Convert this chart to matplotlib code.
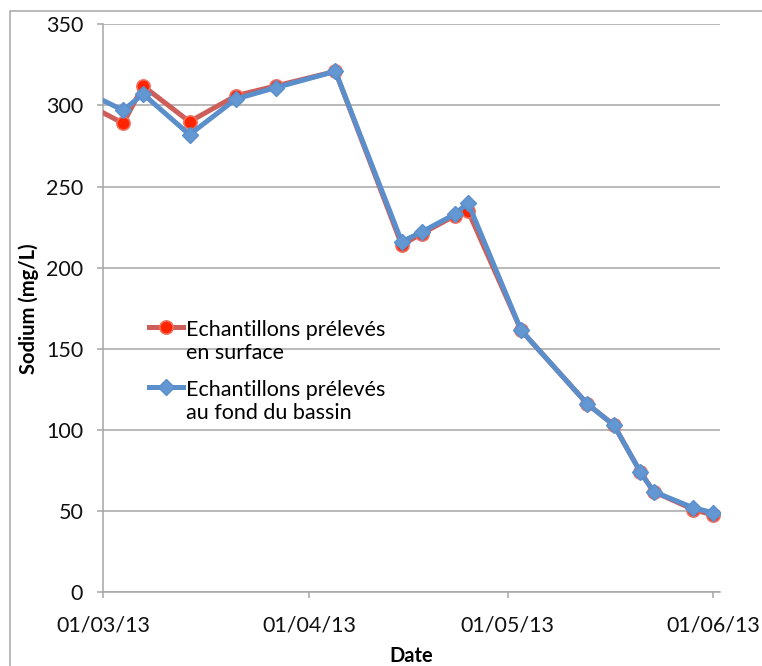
import datetime as dt
import matplotlib
matplotlib.use("Agg")
import matplotlib.pyplot as plt
import matplotlib.dates as mdates
from matplotlib.lines import Line2D
from matplotlib.patches import Rectangle
from matplotlib.legend_handler import HandlerLine2D

plt.rcParams['font.family'] = ['Lato', 'DejaVu Sans']

# sampling dates (the first one lies before the visible range)
dates = ["2013-02-25", "2013-03-04", "2013-03-07", "2013-03-14", "2013-03-21",
         "2013-03-27", "2013-04-05", "2013-04-15", "2013-04-18", "2013-04-23",
         "2013-04-25", "2013-05-03", "2013-05-13", "2013-05-17", "2013-05-21",
         "2013-05-23", "2013-05-29", "2013-06-01"]
surface = [304, 289, 312, 290, 306, 312, 321, 214, 221, 232, 235, 161.5,
           116, 103, 74, 62, 51, 47.5]
fond = [311, 297, 307, 282, 304, 311, 321, 216, 222, 233, 240, 161.5,
        116, 103, 74, 62, 52, 49]

label_surface = "Echantillons prélevés\nen surface"
label_fond = "Echantillons prélevés\nau fond du bassin"

x = [dt.datetime.strptime(d, "%Y-%m-%d") for d in dates]

red_line = '#CD5E5A'
red_marker = '#FF2400'
blue = '#5B8FCC'
grid_col = '#A6A6A6'


class FirstLineHandler(HandlerLine2D):
    # put the legend key next to the first line of a two-line label
    def create_artists(self, legend, orig_handle, xdescent, ydescent,
                       width, height, fontsize, trans):
        arts = super().create_artists(legend, orig_handle, xdescent, ydescent,
                                      width, height, fontsize, trans)
        for a in arts:
            a.set_ydata([y + 0.7 * fontsize for y in a.get_ydata()])
        return arts


fig = plt.figure(figsize=(7.62, 6.66), dpi=100)
ax = fig.add_axes([0.1356, 0.1107, 0.8093, 0.8528])

l1, = ax.plot(x, surface, color=red_line, lw=3.6, marker='o', ms=9.5,
              mfc=red_marker, mec='#F07060', mew=1.2, zorder=3,
              label=label_surface)
l2, = ax.plot(x, fond, color=blue, lw=3.6, marker='D', ms=8,
              mfc='#6397D2', mec=blue, mew=1, zorder=4, label=label_fond)

ax.set_xlim(dt.datetime(2013, 3, 1), dt.datetime(2013, 6, 2))
ax.set_ylim(0, 350)
ax.set_yticks(range(0, 351, 50))
ax.xaxis.set_major_locator(mdates.MonthLocator())
ax.xaxis.set_major_formatter(mdates.DateFormatter('%d/%m/%y'))

ax.yaxis.grid(True, color=grid_col, lw=1.1)
ax.set_axisbelow(True)
for s in ['top', 'right']:
    ax.spines[s].set_visible(False)
for s in ['left', 'bottom']:
    ax.spines[s].set_color(grid_col)
    ax.spines[s].set_linewidth(1.1)

ax.tick_params(axis='y', length=4.5, width=1.1, color=grid_col, pad=10,
               labelsize=15.5, labelcolor='#111111')
ax.tick_params(axis='x', length=4.5, width=1.1, color=grid_col, pad=12,
               labelsize=15.5, labelcolor='#111111')

ax.set_ylabel("Sodium (mg/L)", fontsize=14.5, fontweight='bold', labelpad=5)
ax.set_xlabel("Date", fontsize=14.5, fontweight='bold', labelpad=8)

ax.legend(handles=[l1, l2], loc='upper left', bbox_to_anchor=(0.060, 0.495),
          frameon=False, fontsize=15.5, handlelength=1.6, handletextpad=0.1,
          labelspacing=0.8, borderaxespad=0,
          handler_map={Line2D: FirstLineHandler()})

fig.add_artist(Rectangle((0.0125, -0.05), 1.2, 0.9835 + 0.05,
                         transform=fig.transFigure, fill=False,
                         edgecolor=grid_col, lw=1.1))

fig.savefig("out.png", dpi=100)
